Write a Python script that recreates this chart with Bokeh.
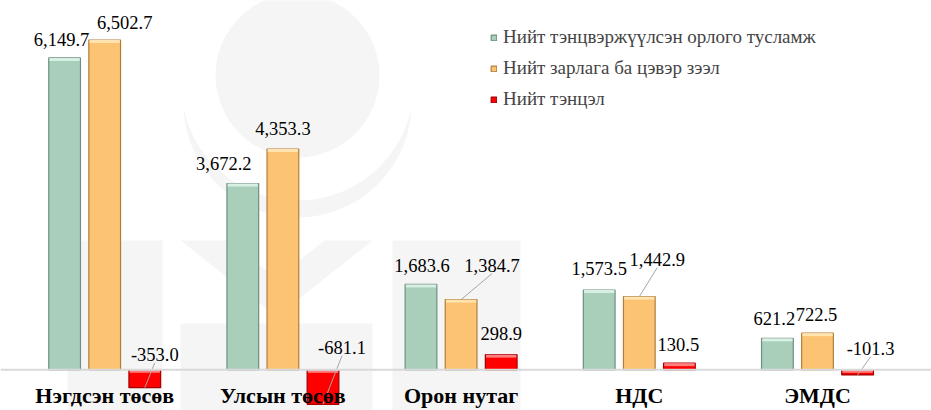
import numpy as np
from bokeh.plotting import figure
from bokeh.models import Range1d, Span, Legend, LegendItem, ColumnDataSource
from bokeh.core.properties import value
from bokeh.embed import file_html
from bokeh.resources import INLINE

# ---- data ----
categories = ["Нэгдсэн төсөв", "Улсын төсөв", "Орон нутаг", "НДС", "ЭМДС"]
series_names = ["Нийт тэнцвэржүүлсэн орлого тусламж",
                "Нийт зарлага ба цэвэр зээл",
                "Нийт тэнцэл"]
revenue = [6149.7, 3672.2, 1683.6, 1573.5, 621.2]
expenditure = [6502.7, 4353.3, 1384.7, 1442.9, 722.5]
balance = [-353.0, -681.1, 298.9, 130.5, -101.3]

# ---- styling / layout ----
W, H = 931, 410
X0, X1 = -0.5847, 4.6397
Y0, Y1 = -803.0, 7283.0
PXX = (X1 - X0) / W          # data units per px (x)
PXY = (Y1 - Y0) / H          # data units per px (y)
OFF = 0.225
BW = 0.178


def sx(px):
    return X0 + np.asarray(px, dtype=float) * PXX


def sy(py):
    return Y1 - np.asarray(py, dtype=float) * PXY


fills = ["#a9cfbb", "#fbc372", "#ff0000"]
edges = ["#6f8f80", "#b07f3c", "#a00000"]
tops = ["#d8efe3", "#ffe3b0", "#ff8080"]
WM = "#f5f5f5"

# label nudges in px (right, up)
lab_dx = [[-3, -19, 1, 0, -3], [20, 0, 31, 18, -1], [10, 19, 0, -1, 13]]
lab_dy = [[18, 20, 19, 21, 20], [18, 21, 34, 37, 19], [15, 22, 21, 19, 21]]
leader = [[False] * 5, [False, False, True, True, False], [True, True, False, False, True]]

FONT = "Liberation Serif"

p = figure(width=W, height=H, x_range=Range1d(X0, X1), y_range=Range1d(Y0, Y1),
           output_backend="svg", toolbar_location=None, min_border=0,
           x_axis_type=None, y_axis_type=None)
p.xgrid.visible = False
p.ygrid.visible = False
p.outline_line_color = None
p.background_fill_color = "white"

# ---- faint background watermark (decoration) ----
p.scatter(x=sx([297]), y=sy([103]), size=228, marker="circle", fill_color=WM, line_color=None)
p.scatter(x=sx([297]), y=sy([83.6]), size=233, marker="circle", fill_color="white", line_color=None)
p.scatter(x=sx([297]), y=sy([75]), size=164, marker="circle", fill_color=WM, line_color=None)
p.quad(left=sx([67, 180, 392]), right=sx([162, 372, 520]),
       top=sy([240, 323, 240]), bottom=sy([410, 410, 410]),
       fill_color=WM, line_color=None)
p.patch(x=sx([180, 228, 276, 324, 372, 276]), y=sy([240, 240, 278, 240, 240, 316]),
        fill_color=WM, line_color=None)

p.add_layout(Span(location=0, dimension="width", line_color="#d9d9d9", line_width=2))

idx = np.arange(len(categories))
all_series = [revenue, expenditure, balance]
offsets = [-OFF, 0.0, OFF]
renderers = []
for k, vals in enumerate(all_series):
    v = np.array(vals)
    xs = idx + offsets[k]
    src = ColumnDataSource(dict(x=xs, top=v))
    r = p.vbar(x="x", top="top", bottom=0, width=BW, source=src,
               fill_color=fills[k], line_color=edges[k], line_width=1.2)
    renderers.append(r)
    # bevel highlight on upper edge
    ytop = np.maximum(v, 0)
    p.segment(x0=xs - BW / 2 + 0.004, x1=xs + BW / 2 - 0.004,
              y0=ytop - 1.5 * PXY, y1=ytop - 1.5 * PXY,
              line_color=tops[k], line_width=3)

for k, vals in enumerate(all_series):
    v = np.array(vals)
    xs = idx + offsets[k]
    ref = np.maximum(v, 0)
    lx = xs + np.array(lab_dx[k]) * PXX
    ly = ref + np.array(lab_dy[k]) * PXY
    texts = [f"{val:,.1f}" for val in vals]
    p.text(x=lx, y=ly, text=texts, text_align="center", text_baseline="middle",
           text_font=value(FONT), text_font_size="18.5px", text_color="black")
    for i in range(len(vals)):
        if leader[k][i]:
            p.segment(x0=[xs[i]], y0=[v[i]], x1=[lx[i]], y1=[ly[i] - 8 * PXY],
                      line_color="#a6a6a6", line_width=1)

p.text(x=idx, y=np.zeros(len(categories)), text=categories, y_offset=26,
       text_align="center", text_baseline="middle", text_font=value(FONT),
       text_font_size="22px", text_font_style="bold", text_color="black")

legend = Legend(items=[LegendItem(label=series_names[k], renderers=[renderers[k]])
                       for k in range(3)],
                location=(490, 300), border_line_color=None,
                background_fill_alpha=0,
                glyph_width=7, glyph_height=7, label_standoff=6, spacing=9,
                padding=0, margin=0, label_height=22,
                label_text_font=FONT, label_text_font_size="19px")
p.add_layout(legend)

open("out.html", "w").write(file_html(p, INLINE))
